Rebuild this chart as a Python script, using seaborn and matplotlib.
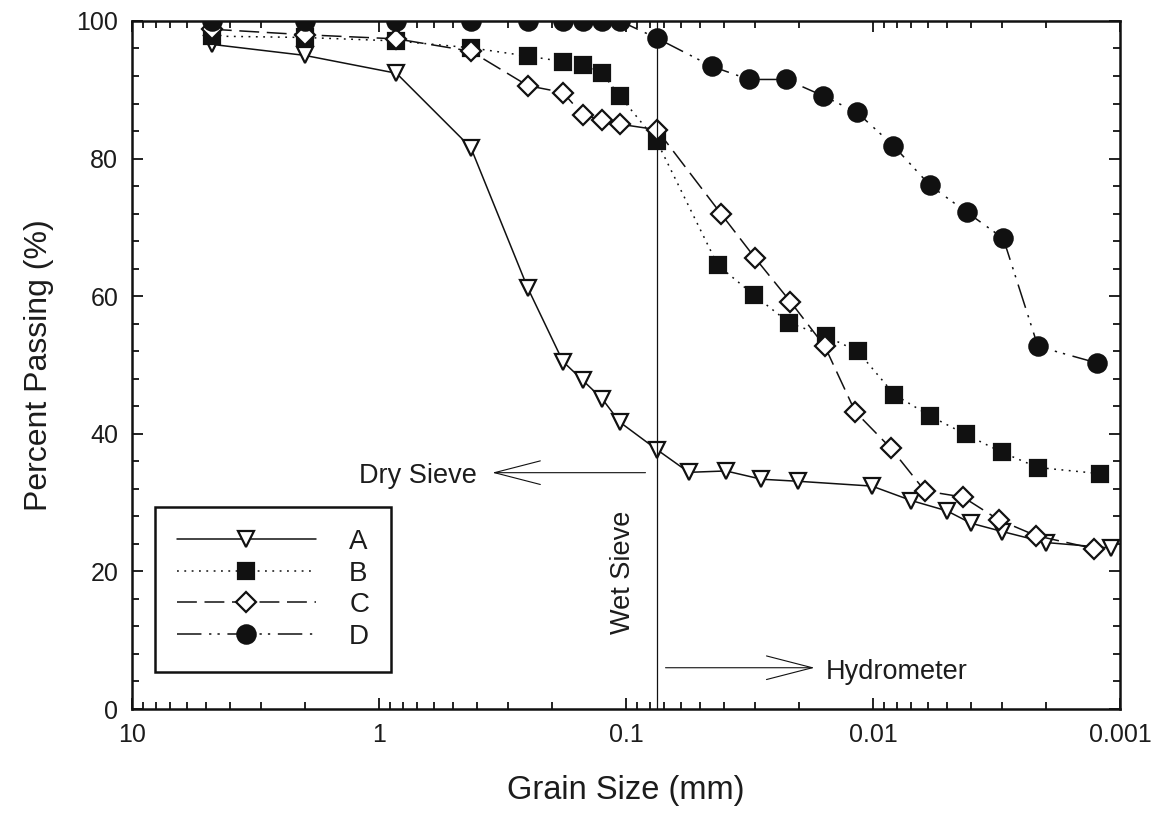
import numpy as np
import pandas as pd
import matplotlib
matplotlib.use("Agg")
import matplotlib.pyplot as plt
from matplotlib.ticker import MultipleLocator, LogLocator, NullFormatter
import seaborn as sns

# ---------------- data ----------------
sieve_sizes = [4.75, 2.0, 0.85, 0.425, 0.25, 0.18, 0.15, 0.125, 0.106, 0.075]

size_A = sieve_sizes + [0.0557, 0.0394, 0.0283, 0.0201, 0.0101, 0.0070, 0.00502,
                        0.00401, 0.0030, 0.0020, 0.00109]
pass_A = [96.6, 95.0, 92.4, 81.6, 61.2, 50.5, 47.8, 45.1, 41.7, 37.7,
          34.4, 34.6, 33.4, 33.1, 32.4, 30.3, 28.8, 27.0, 25.8, 24.2, 23.4]

size_B = sieve_sizes + [0.0425, 0.0304, 0.0218, 0.01556, 0.01153, 0.00819, 0.00588,
                        0.00421, 0.0030, 0.00215, 0.0012]
pass_B = [97.8, 97.6, 97.1, 96.1, 94.9, 94.1, 93.6, 92.4, 89.1, 82.5,
          64.5, 60.2, 56.1, 54.2, 52.0, 45.7, 42.6, 39.9, 37.3, 35.1, 34.2]

size_C = sieve_sizes + [0.0413, 0.0301, 0.0216, 0.01567, 0.0118, 0.00847, 0.00617,
                        0.00432, 0.0031, 0.00219, 0.00127]
pass_C = [98.8, 98.0, 97.4, 95.6, 90.6, 89.6, 86.4, 85.6, 85.0, 84.2,
          72.0, 65.6, 59.2, 52.7, 43.2, 37.9, 31.7, 30.8, 27.5, 25.2, 23.3]

size_D = sieve_sizes + [0.0449, 0.0318, 0.0225, 0.0159, 0.0116, 0.00828, 0.00588,
                        0.00417, 0.00297, 0.00215, 0.00124]
pass_D = [100, 100, 100, 100, 100, 100, 100, 100, 100, 97.5,
          93.4, 91.5, 91.5, 89.1, 86.7, 81.9, 76.1, 72.2, 68.4, 52.7, 50.3]

series_labels = ["A", "B", "C", "D"]

xtick_vals = [10, 1, 0.1, 0.01, 0.001]
xtick_labels = ["10", "1", "0.1", "0.01", "0.001"]
ytick_vals = [0, 20, 40, 60, 80, 100]
ytick_labels = ["0", "20", "40", "60", "80", "100"]

wet_sieve_size = 0.075
x_label = "Grain Size (mm)"
y_label = "Percent Passing (%)"

# ---------------- style ----------------
sns.set_style("ticks")
plt.rcParams["font.family"] = ["Liberation Sans", "DejaVu Sans"]
TXT = "#1c1c1c"

fig = plt.figure(figsize=(11.56, 8.13), dpi=100)
ax = fig.add_axes([0.1142, 0.1279, 0.8547, 0.8463])
ax.set_xscale("log")

styles = [
    dict(marker="v", ms=12, mfc="white", ls="-"),
    dict(marker="s", ms=11.5, mfc="#111111", ls=(0, (1.2, 3.6))),
    dict(marker="D", ms=9.8, mfc="white", ls=(0, (13, 5))),
    dict(marker="o", ms=13.2, mfc="#111111", ls=(0, (16, 5, 1.5, 4, 1.5, 5))),
]
xs = [size_A, size_B, size_C, size_D]
ys = [pass_A, pass_B, pass_C, pass_D]

for x, y, lab, st in zip(xs, ys, series_labels, styles):
    df = pd.DataFrame({"size": x, "passing": y})
    sns.lineplot(data=df, x="size", y="passing", ax=ax, sort=False,
                 estimator=None, errorbar=None, color="#111111",
                 linewidth=1.1, linestyle=st["ls"], marker=st["marker"],
                 markersize=st["ms"], markerfacecolor=st["mfc"],
                 markeredgecolor="#111111", markeredgewidth=1.6, label=lab)

ax.set_xlim(10, 0.001)
ax.set_ylim(0, 100)

ax.set_xticks(xtick_vals)
ax.set_xticklabels(xtick_labels)
ax.xaxis.set_minor_locator(LogLocator(base=10, subs=np.arange(2, 10)))
ax.xaxis.set_minor_formatter(NullFormatter())
ax.set_yticks(ytick_vals)
ax.set_yticklabels(ytick_labels)
ax.yaxis.set_minor_locator(MultipleLocator(4))

ax.tick_params(which="both", direction="in", top=True, right=True,
               colors="#111111", labelcolor=TXT, labelsize=18, width=1.3)
ax.tick_params(which="major", length=8, pad=10)
ax.tick_params(which="minor", length=5)
for sp in ax.spines.values():
    sp.set_linewidth(1.8)
    sp.set_color("#111111")

ax.set_xlabel(x_label, fontsize=23.5, color=TXT, labelpad=20)
ax.set_ylabel(y_label, fontsize=23, color=TXT, labelpad=16)

# wet sieve boundary
ax.axvline(wet_sieve_size, color="#111111", lw=0.9)
ax.text(0.1024, 19.9, "Wet Sieve", rotation=90, ha="center", va="center",
        fontsize=19.5, color=TXT)

arrow_kw = dict(arrowstyle="->,head_length=3.3,head_width=0.85", lw=0.8,
                color="#111111", mutation_scale=10, shrinkA=0, shrinkB=0)
ax.annotate("", xy=(0.348, 34.35), xytext=(0.0834, 34.35), arrowprops=arrow_kw)
ax.text(0.401, 32.85, "Dry Sieve", ha="right", va="baseline", fontsize=19.5, color=TXT)
ax.annotate("", xy=(0.01725, 6.0), xytext=(0.0692, 6.0), arrowprops=arrow_kw)
ax.text(0.0156, 4.36, "Hydrometer", ha="left", va="baseline", fontsize=19.5, color=TXT)

handles, labels = ax.get_legend_handles_labels()
leg = ax.legend(handles, labels, loc="lower left", bbox_to_anchor=(0.023, 0.054),
                borderaxespad=0, fontsize=20, handlelength=5.0, handletextpad=1.2,
                borderpad=0.8, labelspacing=0.2, fancybox=False, framealpha=1,
                edgecolor="#111111", numpoints=1)
leg.get_frame().set_linewidth(1.8)
for t in leg.get_texts():
    t.set_color(TXT)

fig.savefig("out.png", dpi=100, facecolor="white")
